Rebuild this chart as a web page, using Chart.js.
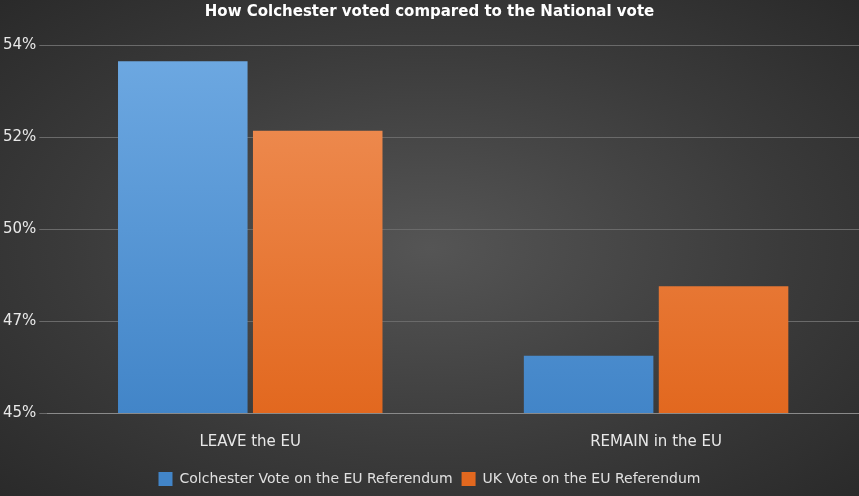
<!DOCTYPE html>
<html>
<head>
<meta charset="utf-8">
<script src="https://cdn.jsdelivr.net/npm/chart.js@4"></script>
<style>
html, body { margin: 0; padding: 0; }
body { width: 859px; height: 496px; background: radial-gradient(ellipse at center, #555555 0%, #3a3a3a 60%, #2a2a2a 100%); }
#wrap { width: 859px; height: 496px; }
</style>
</head>
<body>
<div id="wrap"><canvas id="chart"></canvas></div>
<script>
const categories = ['LEAVE the EU', 'REMAIN in the EU'];
const colchesterVote = [53.6, 46.4];
const ukVote = [51.9, 48.1];
const seriesNames = ['Colchester Vote on the EU Referendum', 'UK Vote on the EU Referendum'];

function vertGradient(ctx, area, top, bottom)
{
	if (!area) return top;
	const g = ctx.createLinearGradient(0, area.top, 0, area.bottom);
	g.addColorStop(0, top);
	g.addColorStop(1, bottom);
	return g;
}

Chart.defaults.font.family = '"DejaVu Sans", sans-serif';
Chart.defaults.color = '#e0e0e0';

new Chart(document.getElementById('chart').getContext('2d'), {
	type: 'bar',
	data: {
		labels: categories,
		datasets: [{
			label: seriesNames[0],
			data: colchesterVote,
			backgroundColor: c => vertGradient(c.chart.ctx, c.chart.chartArea, '#6ea9e2', '#4285c8'),
			categoryPercentage: 0.665,
			barPercentage: 0.96
		}, {
			label: seriesNames[1],
			data: ukVote,
			backgroundColor: c => vertGradient(c.chart.ctx, c.chart.chartArea, '#f0925a', '#e2681f'),
			categoryPercentage: 0.665,
			barPercentage: 0.96
		}]
	},
	options: {
		responsive: true,
		maintainAspectRatio: false,
		animation: false,
		layout: { padding: { left: 0, right: 0, top: 0, bottom: 0 } },
		plugins: {
			title: {
				display: true,
				text: 'How Colchester voted compared to the National vote',
				color: '#ffffff',
				font: { size: 15, weight: 'bold' },
				padding: { top: 3, bottom: 24 }
			},
			legend: {
				position: 'bottom',
				labels: { boxWidth: 14, boxHeight: 14, padding: 9, font: { size: 14 }, color: '#e0e0e0' }
			},
			tooltip: { enabled: false }
		},
		scales: {
			x: {
				grid: { display: false },
				border: { color: '#8a8a8a' },
				ticks: { font: { size: 15 }, color: '#e8e8e8', padding: 12 }
			},
			y: {
				min: 45,
				max: 54,
				ticks: {
					stepSize: 2.25,
					font: { size: 15 },
					color: '#e8e8e8',
					callback: v => Math.round(v) + '%'
				},
				grid: { color: '#6a6a6a' },
				border: { display: false }
			}
		}
	}
});
</script>
</body>
</html>
